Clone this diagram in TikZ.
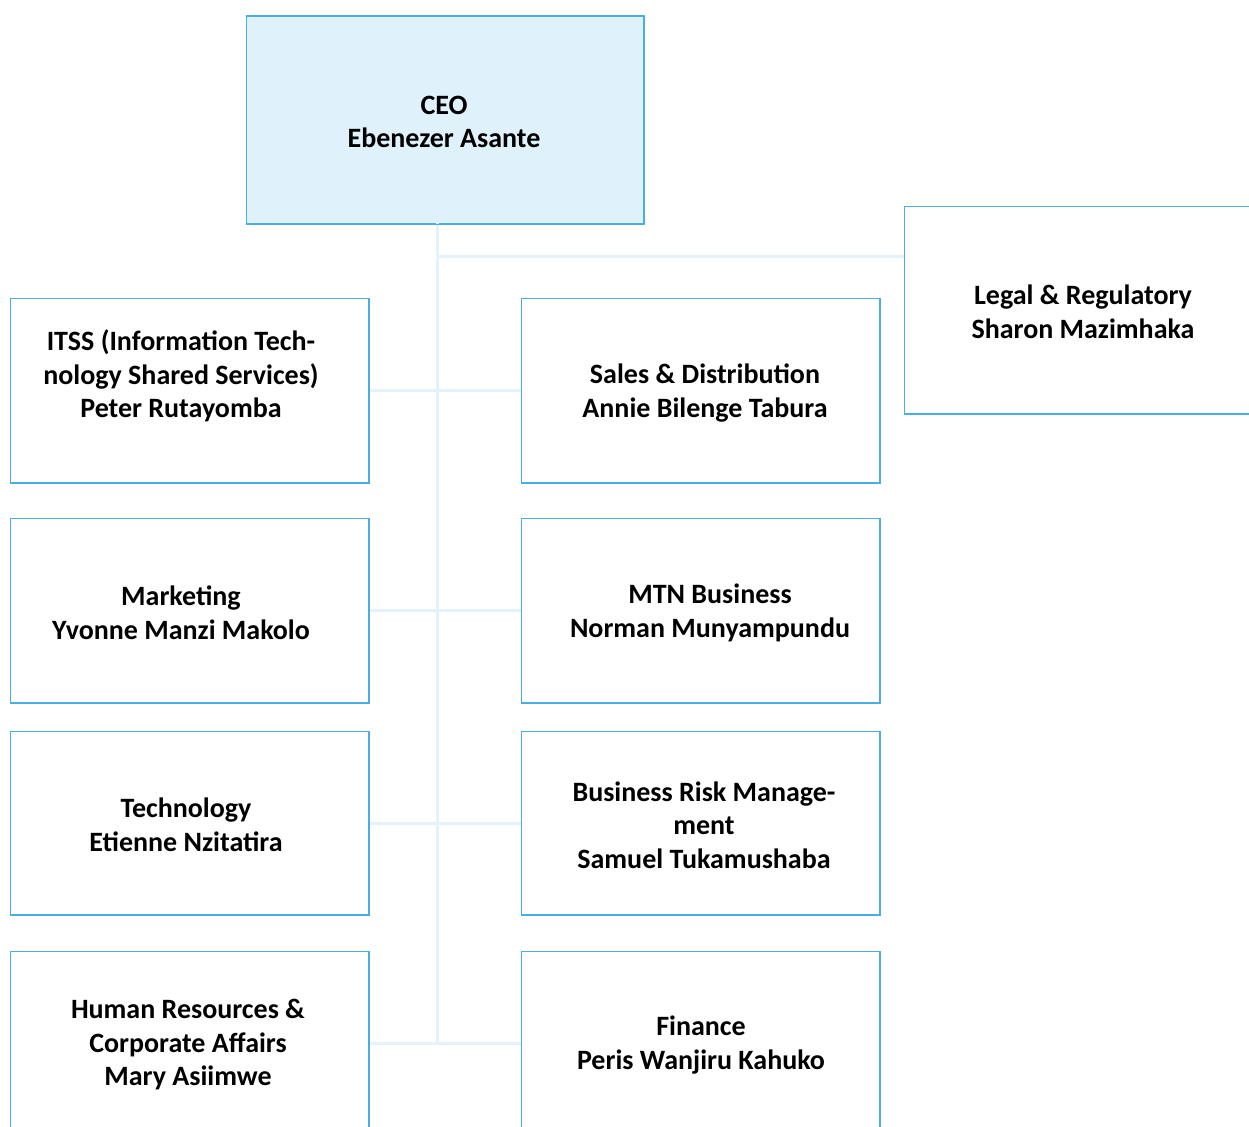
\documentclass[tikz,border=0pt]{standalone}
\usepackage{fontspec}
\setmainfont{Carlito}
\definecolor{boxline}{HTML}{4AAEE3}
\definecolor{ceofill}{HTML}{DFF1FB}
\definecolor{conn}{HTML}{E3F2FB}
\tikzset{
  orgbox/.style={draw=boxline, line width=1pt, anchor=north west, inner sep=0pt},
  orgtext/.style={align=center, font=\fontsize{28}{33.5}\selectfont\bfseries, text=black, inner sep=0pt},
  link/.style={draw=conn, line width=3pt}
}
\begin{document}
\begin{tikzpicture}[x=1pt,y=-1pt]
\useasboundingbox (0,0) rectangle (1249,1126);
\clip (0,0) rectangle (1249,1126);
% connectors
\coordinate (top) at (437,223);
\coordinate (bot) at (437,1042);
\coordinate (legalj) at (437,256);
% boxes
\node[orgbox, fill=ceofill, minimum width=397pt, minimum height=207pt] (ceo) at (246,16) {};
\node[orgbox, minimum width=358pt, minimum height=207pt] (legal) at (904,206) {};
\node[orgbox, minimum width=358pt, minimum height=184pt] (itss) at (10,298) {};
\node[orgbox, minimum width=358pt, minimum height=184pt] (sales) at (521,298) {};
\node[orgbox, minimum width=358pt, minimum height=184pt] (mkt) at (10,518) {};
\node[orgbox, minimum width=358pt, minimum height=184pt] (mtn) at (521,518) {};
\node[orgbox, minimum width=358pt, minimum height=183pt] (tech) at (10,731) {};
\node[orgbox, minimum width=358pt, minimum height=183pt] (brm) at (521,731) {};
\node[orgbox, minimum width=358pt, minimum height=184pt] (hr) at (10,951) {};
\node[orgbox, minimum width=358pt, minimum height=184pt] (fin) at (521,951) {};
% connector lines
\draw[link] (top) -- (bot);
\draw[link] (legalj) -- (legal.west |- legalj);
\draw[link] (itss.east) -- (sales.west);
\draw[link] (mkt.east) -- (mtn.west);
\draw[link] (tech.east) -- (brm.west);
\draw[link] (hr.east) -- (fin.west);
% redraw box borders over connectors
\foreach \b in {ceo,legal,itss,sales,mkt,mtn,tech,brm,hr,fin}{
  \draw[boxline, line width=1pt] (\b.north west) rectangle (\b.south east);
}
% texts
\node[orgtext] (ceoT) at (444,122) {CEO\\Ebenezer Asante};
\node[orgtext] (legalT) at (1083,312) {Legal \& Regulatory\\Sharon Mazimhaka};
\node[orgtext] (itssT) at (181,376) {ITSS (Information Tech-\\nology Shared Services)\\Peter Rutayomba};
\node[orgtext] (salesT) at (705,393) {Sales \& Distribution\\Annie Bilenge Tabura};
\node[orgtext] (mktT) at (181,613) {Marketing\\Yvonne Manzi Makolo};
\node[orgtext] (mtnT) at (710,613) {MTN Business\\Norman Munyampundu};
\node[orgtext] (techT) at (186,825) {Technology\\Etienne Nzitatira};
\node[orgtext] (brmT) at (704,825) {Business Risk Manage-\\ment\\Samuel Tukamushaba};
\node[orgtext] (hrT) at (188,1045) {Human Resources \&\\Corporate Affairs\\Mary Asiimwe};
\node[orgtext] (finT) at (701,1045) {Finance\\Peris Wanjiru Kahuko};
\end{tikzpicture}
\end{document}
